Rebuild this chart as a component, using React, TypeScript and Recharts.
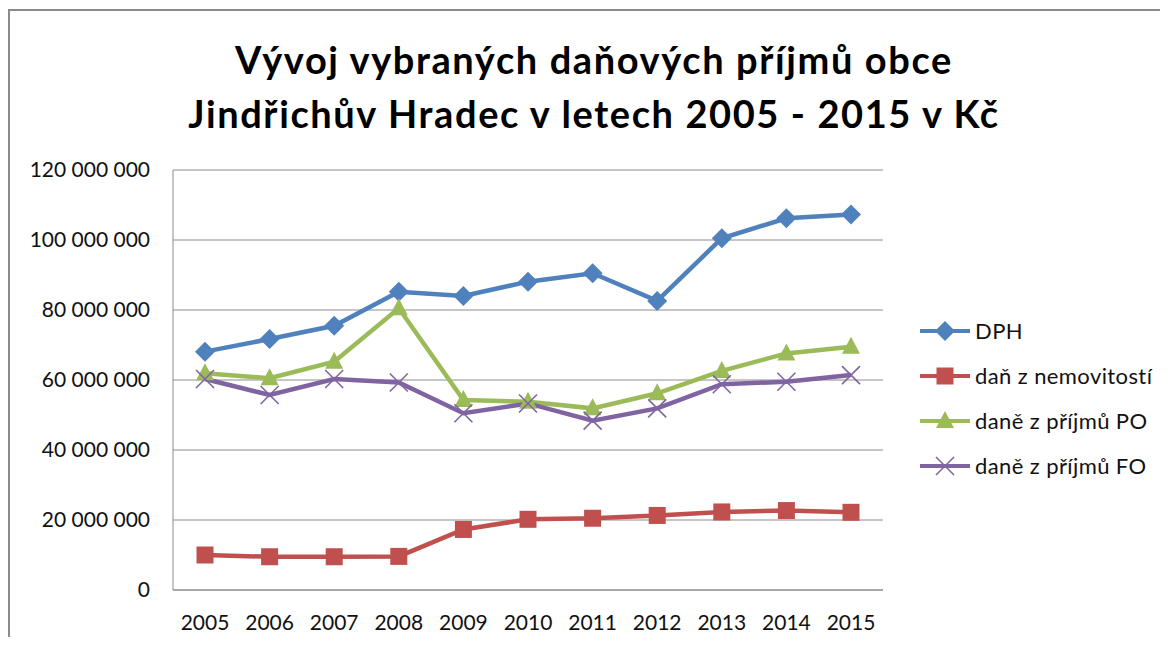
import React from 'react';
import { LineChart, Line, XAxis, YAxis, CartesianGrid } from 'recharts';

// Roky a hodnoty (Kč)
const years = ['2005', '2006', '2007', '2008', '2009', '2010', '2011', '2012', '2013', '2014', '2015'];
const dph = [68.1, 71.7, 75.5, 85.2, 84.0, 88.1, 90.5, 82.6, 100.5, 106.2, 107.3];
const danNemovitosti = [10.0, 9.5, 9.5, 9.6, 17.3, 20.2, 20.5, 21.3, 22.3, 22.7, 22.2];
const danPO = [61.9, 60.5, 65.2, 80.5, 54.3, 53.8, 51.9, 56.2, 62.6, 67.6, 69.5];
const danFO = [60.3, 55.7, 60.3, 59.3, 50.5, 53.3, 48.4, 51.9, 58.8, 59.5, 61.4];
const yTicks = [0, 20000000, 40000000, 60000000, 80000000, 100000000, 120000000];

const MIL = 1000000;
const data = years.map((year, i) => ({
  year,
  dph: dph[i] * MIL,
  nem: danNemovitosti[i] * MIL,
  po: danPO[i] * MIL,
  fo: danFO[i] * MIL,
}));

const FONT = 'Lato, "Open Sans", sans-serif';

const series = [
  { key: 'dph', name: 'DPH', color: '#4F81BD', shape: 'diamond' },
  { key: 'nem', name: 'daň z nemovitostí', color: '#C0504D', shape: 'square' },
  { key: 'po', name: 'daně z příjmů PO', color: '#9BBB59', shape: 'triangle' },
  { key: 'fo', name: 'daně z příjmů FO', color: '#8064A2', shape: 'x' },
];

const formatNumber = (v: number) => String(v).replace(/\B(?=(\d{3})+(?!\d))/g, ' ');

// Marker shapes like in Excel
const Marker = ({ cx, cy, color, shape }: any) => {
  if (cx == null || cy == null) return null;
  switch (shape) {
    case 'diamond':
      return <polygon points={`${cx},${cy - 10} ${cx + 10},${cy} ${cx},${cy + 10} ${cx - 10},${cy}`} fill={color} />;
    case 'square':
      return <rect x={cx - 8.5} y={cy - 8.5} width={17} height={17} fill={color} />;
    case 'triangle':
      return <polygon points={`${cx},${cy - 10} ${cx + 9},${cy + 7} ${cx - 9},${cy + 7}`} fill={color} />;
    case 'x':
      return (
        <g stroke={color} strokeWidth={1.6}>
          <line x1={cx - 9} y1={cy - 9} x2={cx + 9} y2={cy + 9} />
          <line x1={cx - 9} y1={cy + 9} x2={cx + 9} y2={cy - 9} />
        </g>
      );
    default:
      return null;
  }
};

const ChartLegend = () => (
  <div style={{ position: 'absolute', left: 918, top: 308, fontFamily: FONT, fontSize: 22, letterSpacing: 0.4, color: '#111' }}>
    {series.map((s) => (
      <div key={s.key} style={{ display: 'flex', alignItems: 'center', height: 45 }}>
        <svg width={54} height={24} style={{ marginRight: 3 }}>
          <line x1={2} y1={12} x2={52} y2={12} stroke={s.color} strokeWidth={4} />
          <Marker cx={27} cy={12} color={s.color} shape={s.shape} />
        </svg>
        <span>{s.name}</span>
      </div>
    ))}
  </div>
);

export default function App() {
  return (
    <div style={{ margin: -8, position: 'relative', width: 1168, height: 645, overflow: 'hidden', background: '#fff' }}>
      {/* chart frame */}
      <div style={{ position: 'absolute', left: 8, top: 9, width: 1200, height: 700, borderTop: '2px solid #8a8a8a', borderLeft: '2px solid #8a8a8a' }} />
      <div
        style={{
          position: 'absolute',
          left: 0,
          width: 1188,
          top: 32,
          textAlign: 'center',
          fontFamily: FONT,
          fontWeight: 'bold',
          fontSize: 38,
          letterSpacing: 1.6,
          lineHeight: '54px',
          color: '#000',
        }}
      >
        Vývoj vybraných daňových příjmů obce
        <br />
        Jindřichův Hradec v letech 2005 - 2015 v Kč
      </div>
      <div style={{ position: 'absolute', left: 0, top: 0 }}>
        <LineChart width={1168} height={645} data={data} margin={{ top: 170, right: 285, left: 0, bottom: 15 }}>
          <CartesianGrid vertical={false} stroke="#8c8c8c" strokeWidth={1} />
          <XAxis
            dataKey="year"
            height={40}
            padding={{ left: 32, right: 32 }}
            axisLine={{ stroke: '#8c8c8c' }}
            tickLine={false}
            tickSize={0}
            tickMargin={25}
            interval={0}
            tick={{ fontFamily: FONT, fontSize: 21, fill: '#111' }}
          />
          <YAxis
            width={173}
            domain={[0, 120000000]}
            ticks={yTicks}
            interval={0}
            axisLine={{ stroke: '#8c8c8c' }}
            tickLine={false}
            tickSize={0}
            tickMargin={23}
            tickFormatter={formatNumber}
            tick={{ fontFamily: FONT, fontSize: 21, fill: '#111' }}
          />
          {series.map((s) => (
            <Line
              key={s.key}
              dataKey={s.key}
              name={s.name}
              stroke={s.color}
              strokeWidth={4.5}
              isAnimationActive={false}
              dot={(p: any) => <Marker key={`${s.key}-${p.index}`} cx={p.cx} cy={p.cy} color={s.color} shape={s.shape} />}
              activeDot={false}
            />
          ))}
        </LineChart>
      </div>
      <ChartLegend />
    </div>
  );
}
